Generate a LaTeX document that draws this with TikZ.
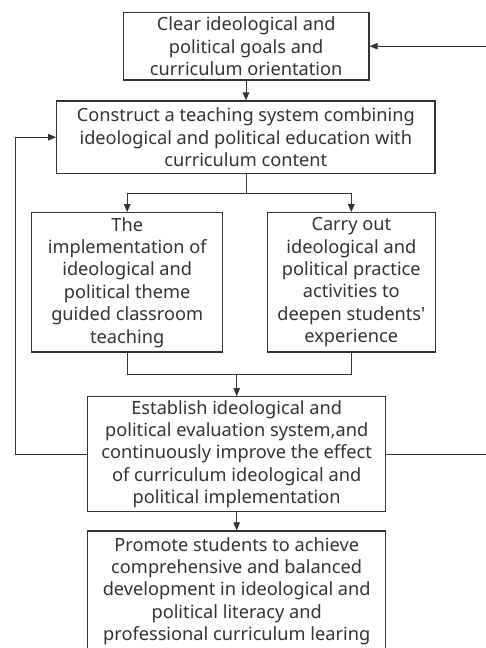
\documentclass[tikz,border=0pt]{standalone}
\usepackage{fontspec}
\setmainfont{Noto Sans}
\usetikzlibrary{arrows.meta}
\definecolor{ink}{HTML}{333333}
\tikzset{
  box/.style={draw=ink, line width=1.2pt, text=ink, align=center, inner sep=0pt,
    font=\fontsize{18.2pt}{22.4pt}\selectfont},
  link/.style={draw=ink, line width=1pt},
  arr/.style={link, -{Triangle[length=8pt,width=6.5pt]}}
}
\begin{document}
\begin{tikzpicture}[x=1pt,y=-1pt]
\useasboundingbox (0,0) rectangle (486,648);
\fill[white] (0,0) rectangle (486,648);

\node[box, minimum width=245.7pt, minimum height=67.7pt] (b1) at (246.2,46.2)
  {Clear ideological and\\political goals and\\curriculum orientation};
\node[box, minimum width=378.3pt, minimum height=72.3pt] (b2) at (245.8,137.2)
  {Construct a teaching system combining\\ideological and political education with\\curriculum content};
\node[box, minimum width=191pt, minimum height=139.3pt] (b3) at (127.2,282.3)
  {The\\implementation of\\ideological and\\political theme\\guided classroom\\teaching};
\node[box, minimum width=168pt, minimum height=139.3pt] (b4) at (351.3,282.3)
  {Carry out\\ideological and\\political practice\\activities to\\deepen students\textquotesingle\\experience};
\node[box, minimum width=298pt, minimum height=115pt] (b5) at (236.7,454.2)
  {Establish ideological and\\political evaluation system,and\\continuously improve the effect\\of curriculum ideological and\\political implementation};
\node[box, minimum width=298pt, minimum height=120.4pt] (b6) at (236.7,591.2)
  {Promote students to achieve\\comprehensive and balanced\\development in ideological and\\political literacy and\\professional curriculum learing};

\coordinate (split) at (246,193.3);
\coordinate (join) at (236.7,374);
\coordinate (lft) at (15,454.2);
\coordinate (rgt) at (489,454.2);

\draw[arr] (b1.south -| split) -- (b2.north -| split);
\draw[link] (b2.south -| split) -- (split);
\draw[arr] (split) -| (b3.north);
\draw[arr] (split) -| (b4.north);
\draw[link] (b3.south) |- (join);
\draw[link] (b4.south) |- (join);
\draw[arr] (join) -- (b5.north);
\draw[arr] (b5.south) -- (b6.north);
\draw[arr] (b5.west) -- (lft) |- (b2.west);
\draw[arr] (b5.east) -- (rgt) |- (b1.east);
\end{tikzpicture}
\end{document}
